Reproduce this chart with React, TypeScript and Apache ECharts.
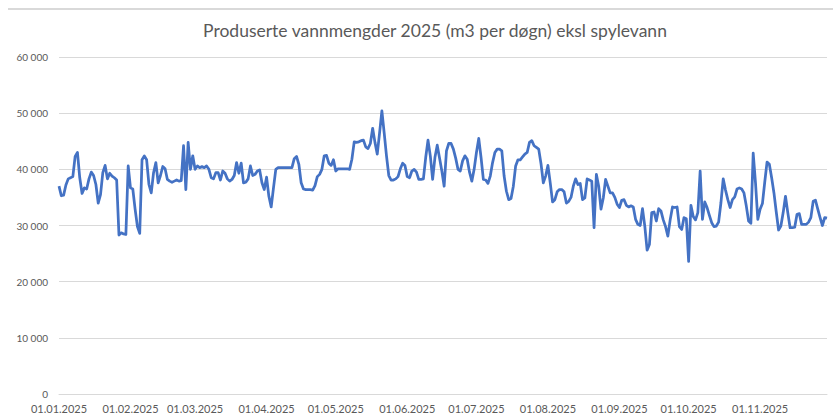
import React, { useEffect, useRef } from "react";
import * as echarts from "echarts";

const TITLE = "Produserte vannmengder 2025 (m3 per døgn) eksl spylevann";
const START_YEAR = 2025;
const Y_TICKS = [0, 10000, 20000, 30000, 40000, 50000, 60000];

// Daily produced water volume (m3 per day), 01.01.2025 – 30.11.2025
const janFeb = [
  37000, 35300, 35400, 37200, 38300, 38500, 38700, 42300, 43000, 38500,
  35700, 36700, 36500, 38300, 39500, 38900, 37300, 34000, 35500, 39400,
  40700, 38300, 39300, 38800, 38500, 38100, 28300, 28700, 28500, 28400,
  40600, 36700, 36500, 32900, 29800, 28600, 41700, 42400, 41700, 37300,
  35800, 39400, 41200, 37600, 38900, 40500, 40100, 38200, 37900, 37700,
  37900, 38100, 37900, 38000, 44200, 36400, 44800,
];
const marApr = [
  40000, 42400, 40000, 40600, 40300, 40500, 40300, 40600, 40000, 38500,
  38300, 39400, 39400, 38100, 39700, 39300, 38300, 37900, 38200, 38900,
  41200, 39300, 41100, 37600, 37700, 38300, 40600, 38900, 39100, 39700,
  39900, 37600, 36400, 38600, 35200, 33300, 36700, 40000, 40300, 40300,
  40300, 40300, 40300, 40300, 40300, 41900, 42300, 40900, 37600, 36500,
  36400, 36400, 36400, 36300, 37100, 38700, 39100, 40000, 42400, 42500,
];
const mayJun = [
  41100, 40700, 41700, 39700, 40100, 40100, 40100, 40100, 40100, 40000,
  41800, 44900, 44800, 44900, 45100, 45200, 44000, 43700, 44600, 47300,
  44800, 42700, 46500, 50400, 46500, 42400, 38900, 38100, 38100, 38300,
  38700, 40100, 41100, 40700, 38700, 38500, 39700, 40000, 39500, 38200,
  38200, 38300, 42100, 45200, 42400, 38200, 42100, 44300, 42000, 39700,
  37000, 43300, 44600, 44600, 43600, 42000, 40000, 39700, 41500, 42400,
  41800, 39500,
];
const julAug = [
  37900, 40000, 43000, 45500, 42100, 38200, 38100, 37500, 38800, 41200,
  43000, 43600, 43600, 43300, 38800, 36100, 34600, 34800, 37000, 40600,
  41700, 41700, 42200, 42700, 43000, 44800, 45100, 44200, 43900, 43600,
  41000, 37600, 38800, 40700, 37600, 34200, 34600, 36000, 36400, 36400,
  36000, 34000, 34300, 35000, 37000, 38300, 37300, 37500, 34600, 34900,
  38300, 38100, 37900, 29600, 39100, 37000, 32900, 34900, 38200, 37000,
];
const sepOct = [
  35800, 35800, 35000, 33800, 33200, 34500, 34600, 33600, 33300, 33500,
  33300, 31100, 30200, 30000, 33000, 29900, 25600, 26600, 32300, 32400,
  30800, 33000, 32600, 31000, 29800, 28100, 31000, 33300, 33200, 33300,
  29800, 29300, 31400, 31200, 23600, 33600, 31600, 31000, 32300, 39700,
  31100, 34200, 33200, 31800, 30500, 29800, 29900,
];
const octNov = [
  30600, 34000, 38300, 36300, 34600, 33200, 34600, 35100, 36500, 36700,
  36500, 35800, 33500, 30800, 30400, 42900, 37600, 31100, 32900, 33900,
  37700, 41300, 40900, 38500, 35800, 32400, 29200, 29900, 32300, 35200,
  32300, 29600, 29600, 29700, 32000, 32100, 30200, 30200, 30200, 30600,
  31400, 34300, 34500, 32900, 31400, 30000, 31400, 31300,
];

const values = [...janFeb, ...marApr, ...mayJun, ...julAug, ...sepOct, ...octNov];

const pad = (n: number) => (n < 10 ? "0" + n : "" + n);
const dates: string[] = values.map((_, i) => {
  const d = new Date(Date.UTC(START_YEAR, 0, 1 + i));
  return `${pad(d.getUTCDate())}.${pad(d.getUTCMonth() + 1)}.${d.getUTCFullYear()}`;
});

const fmtThousands = (v: number) => {
  const s = String(Math.round(v));
  return s.replace(/\B(?=(\d{3})+(?!\d))/g, " ");
};

const FONT = "Lato, 'Liberation Sans', sans-serif";
const GRAY = "#595959";

export default function App() {
  const ref = useRef<HTMLDivElement>(null);
  useEffect(() => {
    if (!ref.current) return;
    const chart = echarts.init(ref.current, undefined, { renderer: "svg" });
    chart.setOption({
      animation: false,
      backgroundColor: "#ffffff",
      title: {
        text: TITLE,
        left: 430,
        top: 16,
        textAlign: "center",
        textStyle: {
          fontFamily: FONT,
          fontSize: 17.5,
          fontWeight: "normal",
          color: GRAY,
        },
      },
      graphic: [
        {
          type: "line",
          shape: { x1: 8, y1: 9, x2: 833, y2: 9 },
          style: { stroke: "#d9d9d9", lineWidth: 2 },
        },
      ],
      grid: { left: 59, right: 6, top: 57, bottom: 22, containLabel: false },
      xAxis: {
        type: "category",
        data: dates,
        boundaryGap: false,
        axisLine: { show: true, lineStyle: { color: "#d9d9d9", width: 1 } },
        axisTick: { show: false },
        splitLine: { show: false },
        axisLabel: {
          interval: (_idx: number, val: string) => val.startsWith("01."),
          fontFamily: FONT,
          fontSize: 11,
          color: GRAY,
          margin: 9,
          hideOverlap: false,
        },
      },
      yAxis: {
        type: "value",
        min: Y_TICKS[0],
        max: Y_TICKS[Y_TICKS.length - 1],
        interval: 10000,
        axisLine: { show: false },
        axisTick: { show: false },
        splitLine: { show: true, lineStyle: { color: "#d9d9d9", width: 1 } },
        axisLabel: {
          formatter: (v: number) => fmtThousands(v),
          fontFamily: FONT,
          fontSize: 10,
          color: GRAY,
          margin: 11,
        },
      },
      series: [
        {
          type: "line",
          data: values,
          showSymbol: false,
          symbol: "none",
          smooth: false,
          lineStyle: { color: "#4472c4", width: 2.75, join: "round" },
          itemStyle: { color: "#4472c4" },
        },
      ],
    });
    return () => chart.dispose();
  }, []);
  return (
    <div
      ref={ref}
      style={{ position: "fixed", left: 0, top: 0, width: 833, height: 416 }}
    />
  );
}
